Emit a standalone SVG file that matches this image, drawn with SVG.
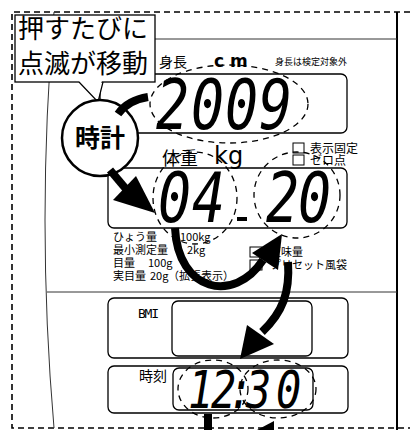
<svg xmlns="http://www.w3.org/2000/svg" width="410" height="430" viewBox="0 0 410 430">
<style>
.frame{fill:none;stroke:#000;stroke-width:1.6;stroke-dasharray:6 4}
.thin{fill:none;stroke:#333;stroke-width:1}
.box{fill:#fff;stroke:#000;stroke-width:1.3}
.ell{fill:none;stroke:#000;stroke-width:1.3;stroke-dasharray:6 5}
.lcd{font-family:"DejaVu Sans Mono",monospace;font-style:italic;fill:#000}
.jp{font-family:"Noto Sans CJK JP",sans-serif;fill:#000}
.arr{fill:none;stroke:#000;stroke-width:8}
.head{fill:#000}
</style>
<rect width="410" height="430" fill="#fff"/>
<g id="frame">
<path class="frame" d="M410,12 H12 V428 H410"/>
<line x1="397" y1="12" x2="397" y2="430" stroke="#000" stroke-width="2"/>
<path class="thin" d="M54,12 Q36,220 54,428"/>
<line class="thin" x1="155" y1="39" x2="397" y2="39"/>
<line class="thin" x1="47" y1="292" x2="397" y2="292"/>
<line class="thin" x1="107" y1="82" x2="106" y2="100"/>
</g>
<g id="height">
<rect class="box" x="100" y="74" width="247" height="59" rx="6"/>
<text class="jp" x="159" y="67" font-size="14">身長</text>
<text x="214" y="67" font-family="DejaVu Sans,sans-serif" font-weight="bold" font-size="17" letter-spacing="6">cm</text>
<text class="jp" x="275" y="65" font-size="9">身長は検定対象外</text>
<text class="lcd" font-size="55" transform="translate(0,129) scale(1,1.26)" x="156 191 225 259" y="0">2009</text>
<ellipse class="ell" cx="229" cy="104" rx="79" ry="39"/>
</g>
<g id="weight">
<rect class="box" x="108" y="168" width="239" height="60" rx="6"/>
<text class="jp" x="162" y="165" font-size="18">体重</text>
<text x="214" y="164" font-family="DejaVu Sans,sans-serif" font-size="24">kg</text>
<rect x="293" y="143" width="11" height="10" fill="#fff" stroke="#000" stroke-width="1"/>
<text class="jp" x="310" y="153" font-size="12">表示固定</text>
<rect x="293" y="155" width="11" height="10" fill="#fff" stroke="#000" stroke-width="1"/>
<text class="jp" x="310" y="165" font-size="12">ゼロ点</text>
<text class="lcd" font-size="55" transform="translate(0,222) scale(1,1.26)" x="158 192" y="0">04</text>
<rect x="237" y="217" width="10" height="4"/>
<text class="lcd" font-size="55" transform="translate(0,222) scale(1,1.26)" x="266 298" y="0">20</text>
<ellipse class="ell" cx="195" cy="198" rx="42" ry="46"/>
<ellipse class="ell" cx="297" cy="195" rx="43" ry="43"/>
<g class="jp" font-size="11">
<text x="113" y="241">ひょう量</text><text x="180" y="241">100kg</text>
<text x="113" y="254">最小測定量</text><text x="187" y="254">2kg</text>
<text x="113" y="267">目量</text><text x="148" y="267">100g</text>
<text x="113" y="280">実目量</text><text x="150" y="280">20g</text><text x="168" y="280">（拡張表示）</text>
<text x="270" y="256">正味量</text>
<text x="270" y="269">プリセット風袋</text>
</g>
<rect x="250" y="247" width="12" height="10" fill="#fff" stroke="#000" stroke-width="1"/>
<rect x="250" y="260" width="12" height="10" fill="#fff" stroke="#000" stroke-width="1"/>
</g>
<g id="bmi">
<rect class="box" x="108" y="298" width="240" height="60" rx="6"/>
<rect class="box" x="172" y="301" width="140" height="55" rx="6"/>
<text x="138" y="318" font-family="DejaVu Sans Mono,monospace" font-size="13" textLength="21">BMI</text>
</g>
<g id="clock">
<rect class="box" x="108" y="366" width="240" height="47" rx="6"/>
<rect class="box" x="173" y="368" width="140" height="42" rx="6"/>
<text class="jp" x="139" y="381" font-size="14">時刻</text>
<text class="lcd" font-size="42" transform="translate(0,408) scale(1,1.24)" x="188 211 228 246 276" y="0">12:30</text>
<ellipse class="ell" cx="213" cy="389" rx="35" ry="29"/>
<ellipse class="ell" cx="278" cy="389" rx="38" ry="29"/>
</g>
<g id="callout">
<polygon points="78,81 98,101 103,81" fill="#fff"/>
<rect class="box" x="15" y="15" width="140" height="67"/>
<polygon points="79,81 102,81 100,85 81,85" fill="#fff"/>
<polyline points="79,82 98,102 103,82" fill="none" stroke="#000" stroke-width="1.2"/>
<text class="jp" x="18" y="38" font-size="26">押すたびに</text>
<text class="jp" x="18" y="73" font-size="26">点滅が移動</text>
</g>
<g id="tokei">
<circle cx="100" cy="138" r="38" fill="#fff" stroke="#000" stroke-width="2.5"/>
<text class="jp" x="100" y="147" font-size="25" font-weight="bold" text-anchor="middle">時計</text>
</g>
<g id="connectors">
<path class="arr" d="M118,114 Q128,100 148,97"/>
<path class="arr" d="M110,170 L126,189"/>
<polygon class="head" points="113,200 136,176 155,213"/>
<path class="arr" d="M175,228 C178,292 234,304 263,260"/>
<polygon class="head" points="252,253 278,270 282,234"/>
<path class="arr" d="M288,262 C290,292 283,312 262,332"/>
<polygon class="head" points="247,325 274,344 240,359"/>
<path class="arr" d="M208,414 L208,440"/>
<polygon class="head" points="257,430 274,421 274,432"/>
</g>
</svg>
